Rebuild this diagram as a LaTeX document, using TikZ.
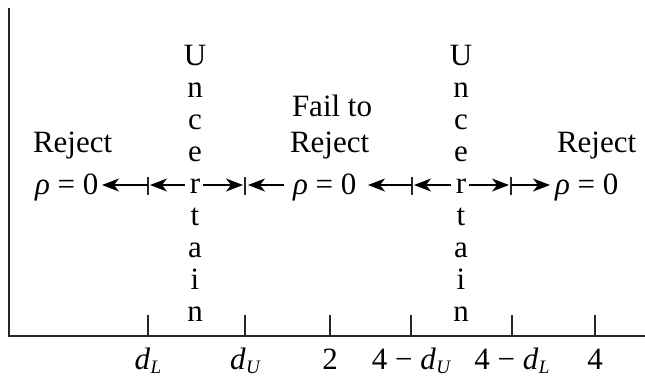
\documentclass[tikz,border=0pt]{standalone}
\usepackage{fontspec}
\setmainfont{Liberation Serif}
\usetikzlibrary{arrows.meta}
\newcommand{\sbx}[1]{\raisebox{-4pt}{\fontsize{19}{19}\selectfont\itshape #1}}
\begin{document}
\begin{tikzpicture}[x=1pt,y=-1pt,
  txt/.style={font=\fontsize{31}{32}\selectfont, inner sep=0pt, outer sep=0pt},
  axisline/.style={line width=2pt, black!85},
  tickline/.style={line width=1.5pt, black!85},
  arr/.style={line width=1.5pt, black, -{Stealth[length=17pt,width=13pt,inset=5pt]}}]
\useasboundingbox (0,0) rectangle (645,376);
% axes
\coordinate (top) at (9,8);
\coordinate (origin) at (9,336);
\coordinate (xend) at (645,336);
\draw[axisline] (top) -- (origin) -- (xend);
% axis ticks and labels
\foreach \nm/\xx/\lab in {dL/148/{\itshape d\kern0.5pt\sbx{L}}, dU/245/{\itshape d\kern0.5pt\sbx{U}}, two/330/{2},
   fdU/411/{4 − \itshape d\kern0.5pt\sbx{U}}, fdL/512/{4 − \itshape d\kern0.5pt\sbx{L}}, four/595/{4}}{
  \coordinate (t-\nm) at (\xx,336);
  \coordinate (tt-\nm) at (\xx,315);
  \draw[tickline] (t-\nm) -- (tt-\nm);
  \node[txt, anchor=base] (l-\nm) at (\xx,369) {\lab};
}
% Uncertain columns
\foreach \col/\xx in {a/195, b/461}{
  \foreach \ch [count=\i from 0] in {U,n,c,e,r,t,a,i,n}{
    \node[txt, anchor=base] (u\col\i) at (\xx,{65+32*\i}) {\ch};
  }
}
% region labels
\node[txt, anchor=base west] (rejL) at (33,152) {Reject};
\node[txt, anchor=base west] (rhoL) at (35,194) {{\itshape ρ} = 0};
\node[txt, anchor=base west] (fail) at (292,116) {Fail to};
\node[txt, anchor=base west] (rejM) at (290,152) {Reject};
\node[txt, anchor=base west] (rhoM) at (293,194) {{\itshape ρ} = 0};
\node[txt, anchor=base west] (rejR) at (557,152) {Reject};
\node[txt, anchor=base west] (rhoR) at (555,194) {{\itshape ρ} = 0};
% small ticks on arrow row
\foreach \nm/\xx in {p1/148, p2/245, p3/412, p4/511}{
  \coordinate (\nm-top) at (\xx,177);
  \coordinate (\nm-bot) at (\xx,195);
  \coordinate (\nm) at (\xx,185);
  \draw[tickline] (\nm-top) -- (\nm-bot);
}
\coordinate (ra-l) at (185,185);
\coordinate (ra-r) at (203,185);
\coordinate (rb-l) at (451,185);
\coordinate (rb-r) at (469,185);
\coordinate (hL) at (102,185);
\coordinate (hM1) at (248,185);
\coordinate (hM2) at (368,185);
\coordinate (hR) at (550,185);
% arrows
\draw[arr] (p1) -- (hL);
\draw[arr] (ra-l) -- ([xshift=2pt]p1);
\draw[arr] (ra-r) -- ([xshift=-2pt]p2);
\draw[arr] ([xshift=36pt]hM1) -- (hM1);
\draw[arr] (p3) -- (hM2);
\draw[arr] (rb-l) -- ([xshift=2pt]p3);
\draw[arr] (rb-r) -- ([xshift=-2pt]p4);
\draw[arr] (p4) -- (hR);
\end{tikzpicture}
\end{document}
